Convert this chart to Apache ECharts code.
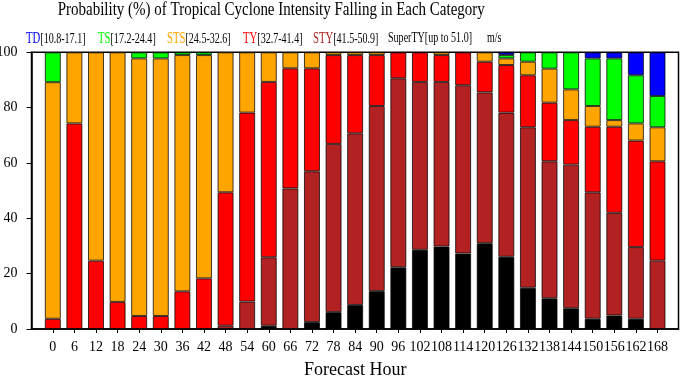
<!DOCTYPE html>
<html><head><meta charset="utf-8">
<script src="https://cdn.jsdelivr.net/npm/echarts@6/dist/echarts.min.js"></script>
<style>html,body{margin:0;padding:0;background:#fff}#c{width:680px;height:378px}</style>
</head><body><div id="c"></div>
<script>
var hours = [0,6,12,18,24,30,36,42,48,54,60,66,72,78,84,90,96,102,108,114,120,126,132,138,144,150,156,162,168];
var superTY = [0,0,0,0,0,0,0,0,0,0,1.2,0,2.5,6.1,8.7,13.7,22.3,28.6,29.8,27.3,31.0,26.1,14.9,11.1,7.5,3.7,4.9,3.7,0];
var sty = [0,0,0,0,0,0,0,0,1.2,9.9,24.7,50.8,54.5,60.8,62.0,66.9,68.3,60.7,59.5,60.8,54.5,52.1,58.0,49.5,51.9,45.7,37.1,25.9,24.7];
var ty = [3.7,74.3,24.7,9.8,4.7,4.7,13.6,18.3,48.2,68.3,63.4,43.4,37.2,32.1,28.3,18.4,9.4,10.7,9.7,11.9,11.1,17.2,18.8,21.2,16.1,23.7,31.1,38.5,35.9];
var sts = [85.5,25.7,75.3,90.2,93.1,93.1,85.4,80.7,50.6,21.8,10.7,5.8,5.8,1.0,1.0,1.0,0,0,1.0,0,3.4,2.4,4.9,12.3,11.1,7.5,2.4,6.2,12.3];
var ts = [10.8,0,0,0,2.2,2.2,1.0,1.0,0,0,0,0,0,0,0,0,0,0,0,0,0,1.2,3.4,5.9,13.4,17.2,22.3,17.4,11.3];
var td = [0,0,0,0,0,0,0,0,0,0,0,0,0,0,0,0,0,0,0,0,0,1.0,0,0,0,2.2,2.2,8.3,15.8];
var titleText = 'Probability (%) of Tropical Cyclone Intensity Falling in Each Category';
var legendItems = [
  {code:'TD', range:'[10.8-17.1]', color:'#0000ff'},
  {code:'TS', range:'[17.2-24.4]', color:'#00ff00'},
  {code:'STS', range:'[24.5-32.6]', color:'#ffa500'},
  {code:'TY', range:'[32.7-41.4]', color:'#ff0000'},
  {code:'STY', range:'[41.5-50.9]', color:'#b22222'},
  {code:'', range:'SuperTY[up to 51.0]', color:'#000000'},
  {code:'', range:'m/s', color:'#000000'}
];
var legendX = [26, 98, 167, 243, 313, 388, 487];

var FONT = '"Liberation Serif", "Times New Roman", serif';
function vals(arr){ return arr.map(function(v){ return v ? v : '-'; }); }
var seriesDefs = [
  {name:'SuperTY', data:superTY, color:'#000000'},
  {name:'STY', data:sty, color:'#b22222'},
  {name:'TY', data:ty, color:'#ff0000'},
  {name:'STS', data:sts, color:'#ffa500'},
  {name:'TS', data:ts, color:'#00ff00'},
  {name:'TD', data:td, color:'#0000ff'}
];
var graphics = [{
  type:'text', x: 57.7, y: 1, scaleX: 0.833,
  style:{text:titleText, font:'18px '+FONT, fill:'#000'}
}];
legendItems.forEach(function(it, i){
  graphics.push({
    type:'text', x: legendX[i], y: 31, scaleX: 0.67,
    style:{
      text: (it.code ? '{c|'+it.code+'}' : '') + '{r|'+it.range+'}',
      rich:{
        c:{fontFamily:FONT, fontSize:16, fill:it.color},
        r:{fontFamily:FONT, fontSize:15, fill:'#000'}
      }
    }
  });
});
var TOP = 52.3, BOTTOM = 49;
var chart = echarts.init(document.getElementById('c'), null, {renderer:'canvas'});
chart.setOption({
  animation:false,
  backgroundColor:'#fff',
  graphic: graphics,
  grid:[
    {left:31.5, right:1.5, top:TOP, bottom:BOTTOM, show:true, borderColor:'#000', borderWidth:1.5, containLabel:false, outerBoundsMode:'none'},
    {left:42, right:11.7, top:TOP, bottom:BOTTOM, containLabel:false, outerBoundsMode:'none'}
  ],
  xAxis:[
    {gridIndex:0, type:'value', min:0, max:1, axisLine:{show:true, lineStyle:{color:'#000', width:1.5}},
     axisTick:{show:false}, axisLabel:{show:false}, splitLine:{show:false}},
    {gridIndex:1, type:'category', data:hours.map(String), boundaryGap:true,
     name:'Forecast Hour', nameLocation:'middle', nameGap:32,
     nameTextStyle:{fontFamily:FONT, fontSize:18, color:'#000'},
     axisLine:{show:false},
     axisTick:{show:true, length:4, alignWithLabel:true, interval:0, lineStyle:{color:'#000'}},
     axisLabel:{interval:0, fontFamily:FONT, fontSize:14, color:'#000', margin:11},
     splitLine:{show:false}}
  ],
  yAxis:[
    {gridIndex:0, type:'value', min:0, max:100, interval:20,
     axisLine:{show:true, lineStyle:{color:'#000', width:1.5}},
     axisTick:{show:true, length:5, lineStyle:{color:'#000'}},
     axisLabel:{fontFamily:FONT, fontSize:14, color:'#000', margin:14},
     splitLine:{show:false}},
    {gridIndex:1, type:'value', min:0, max:100, interval:20, show:false, splitLine:{show:false}}
  ],
  series: seriesDefs.map(function(s){
    return {
      type:'bar', name:s.name, stack:'all', barWidth:16, xAxisIndex:1, yAxisIndex:1,
      data: vals(s.data),
      itemStyle:{color:s.color, borderColor:'rgba(0,0,0,0.75)', borderWidth:1}
    };
  })
});
</script></body></html>
